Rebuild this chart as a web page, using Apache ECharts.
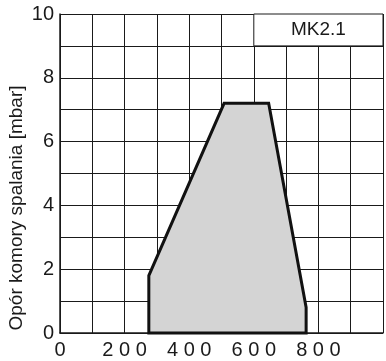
<!DOCTYPE html>
<html>
<head>
<meta charset="utf-8">
<script src="https://cdn.jsdelivr.net/npm/echarts@6/dist/echarts.min.js"></script>
<style>
  html, body { margin: 0; padding: 0; background: #fff; }
  #chart { width: 386px; height: 361px; }
</style>
</head>
<body>
<div id="chart"></div>
<script>
// working field outline: [flow, resistance mbar]
const fieldX = [275, 275, 508, 646, 762, 762]
const fieldY = [0, 1.8, 7.2, 7.2, 0.8, 0]
const xTicks = [0, 200, 400, 600, 800]
const yTicks = [0, 2, 4, 6, 8, 10]
const yAxisTitle = 'Opór komory spalania [mbar]'
const modelLabel = 'MK2.1'

const FONT = '"Liberation Sans", Arial, sans-serif'
const INK = '#1a1a1a'

const chart = echarts.init(document.getElementById('chart'), null, { renderer: 'canvas' })

const fieldPoints = fieldX.map((x, i) => [x, fieldY[i]])

chart.setOption({
  animation: false,
  backgroundColor: '#fff',
  grid: { left: 60, right: 1, top: 14, bottom: 28, containLabel: false },
  xAxis: {
    type: 'value',
    min: 0,
    max: 1000,
    interval: 100,
    axisLine: { show: true, lineStyle: { color: INK, width: 1.5 } },
    axisTick: { show: false },
    splitLine: { show: true, lineStyle: { color: INK, width: 1 } },
    axisLabel: {
      color: INK,
      fontSize: 20,
      fontFamily: FONT,
      margin: 7,
      formatter: (v) => xTicks.includes(v) ? String(v).split('').join(' ') : ''
    }
  },
  yAxis: {
    type: 'value',
    min: 0,
    max: 10,
    interval: 1,
    axisLine: { show: true, lineStyle: { color: INK, width: 1.5 } },
    axisTick: { show: false },
    splitLine: { show: true, lineStyle: { color: INK, width: 1 } },
    axisLabel: {
      color: INK,
      fontSize: 20,
      fontFamily: FONT,
      margin: 6,
      formatter: (v) => yTicks.includes(v) ? String(v) : ''
    }
  },
  graphic: [
    {
      type: 'text',
      x: 17,
      y: 208,
      rotation: Math.PI / 2,
      style: {
        text: yAxisTitle,
        fill: INK,
        fontSize: 19,
        fontFamily: FONT,
        align: 'center',
        verticalAlign: 'middle'
      }
    }
  ],
  series: [
    {
      type: 'custom',
      coordinateSystem: 'cartesian2d',
      data: [0],
      renderItem: (params, api) => {
        const pts = fieldPoints.map(p => api.coord(p))
        return {
          type: 'polygon',
          shape: { points: pts },
          style: { fill: '#d4d4d4', stroke: '#111', lineWidth: 3, lineJoin: 'miter' }
        }
      },
      markArea: {
        silent: true,
        itemStyle: { color: '#fff', borderColor: INK, borderWidth: 1 },
        label: {
          show: true,
          position: 'inside',
          color: INK,
          fontSize: 19,
          fontFamily: FONT
        },
        data: [[{ name: modelLabel, xAxis: 600, yAxis: 9 }, { xAxis: 1000, yAxis: 10 }]]
      }
    }
  ]
})
</script>
</body>
</html>
